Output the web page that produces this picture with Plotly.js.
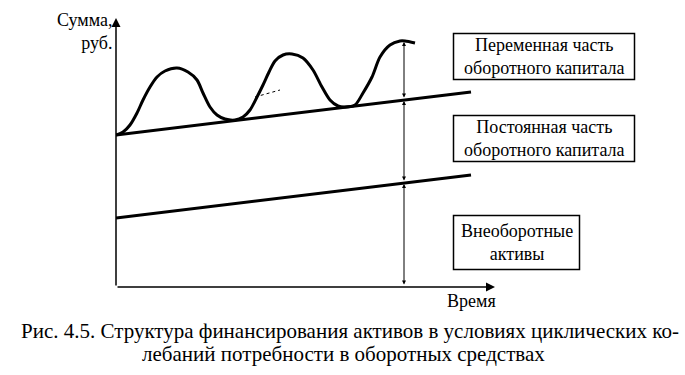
<!DOCTYPE html>
<html><head><meta charset="utf-8">
<script src="https://cdn.plot.ly/plotly-3.0.1.min.js"></script>
<style>html,body{margin:0;padding:0;background:#fff}#chart{width:685px;height:375px}</style>
</head><body><div id="chart"></div>
<script>
// ---- data (arbitrary units: time, sum) ----
const timeWave = [0,0.7,1.4,2.1,2.7,3.4,4.1,4.9,6.1,7.2,8.1,8.7,9.4,10.1,10.9,11.9,12.7,13.4,14.1,14.7,15.3,15.9,16.7,17.6,18.7,19.7,20.6,21.4,22.2,22.9,23.9,24.7,25.6,26.4,27.4,28.4,28.9,29.9];
const sumWave  = [15.2,15.5,16.2,17.4,18.7,20.0,21.0,21.6,21.9,21.5,20.7,19.4,18.0,17.2,16.8,16.7,17.0,17.7,19.0,20.2,21.5,22.6,23.2,23.3,22.9,21.7,20.0,18.7,18.1,18.0,18.2,19.4,21.0,23.0,24.2,24.6,24.6,24.4];
const timeLine = [0, 35.5];
const constPart = [15.2, 19.5];   // upper straight line
const fixedAssets = [6.9, 11.2];  // lower straight line
const leaderTime = [13.9, 16.4];
const leaderSum = [19.0, 19.7];
const markTime = 28.8;
const markLevels = [24.6, 18.7, 10.4, 0];
const boxLabels = [
  ["Переменная часть", "оборотного капитала"],
  ["Постоянная часть", "оборотного капитала"],
  ["Внеоборотные", "активы"]
];
const yTitle = ["Сумма,", "руб."];
const xTitle = "Время";
const caption = ["Рис. 4.5. Структура финансирования активов в условиях циклических ко-",
                 "лебаний потребности в оборотных средствах"];

// ---- layout helpers (pixel -> paper) ----
const L = 116, T = 18, PW = 381, PH = 269;
const XMAX = 38.1, YMAX = 26.9;
const px = v => (v - L) / PW;
const py = v => (T + PH - v) / PH;
const FONT = "Liberation Serif";
const FS = 18, CAP = 21;

const traces = [
  {x: timeLine, y: fixedAssets, mode: "lines", line: {color: "#000", width: 3}},
  {x: timeLine, y: constPart, mode: "lines", line: {color: "#000", width: 3}},
  {x: timeWave, y: sumWave, mode: "lines", line: {color: "#000", width: 3, shape: "spline", smoothing: 0.8}},
  {x: leaderTime, y: leaderSum, mode: "lines", line: {color: "#000", width: 1, dash: "dot"}}
];

const ann = [];
// axes with arrows
ann.push({x: 0, y: YMAX, ax: 0, ay: 0, xref: "x", yref: "y", axref: "x", ayref: "y",
  showarrow: true, arrowhead: 2, arrowsize: 1.2, arrowwidth: 1.5, arrowcolor: "#000", text: "", standoff: 0});
ann.push({x: XMAX - 0.2, y: 0, ax: 0, ay: 0, xref: "x", yref: "y", axref: "x", ayref: "y",
  showarrow: true, arrowhead: 2, arrowsize: 1.2, arrowwidth: 1.5, arrowcolor: "#000", text: "", standoff: 0});
// vertical double arrows
for (let i = 0; i < markLevels.length - 1; i++) {
  ann.push({x: markTime, y: markLevels[i], ax: markTime, ay: markLevels[i+1],
    xref: "x", yref: "y", axref: "x", ayref: "y", text: "", showarrow: true,
    arrowside: "end+start", arrowhead: 2, arrowsize: 0.8, arrowwidth: 1, arrowcolor: "#000", standoff: 1, startstandoff: 1});
}
// boxes
const boxes = [
  {cx: 544, cy: 56.5, w: 181, h: 46, lines: boxLabels[0]},
  {cx: 544, cy: 138.5, w: 181, h: 46, lines: boxLabels[1]},
  {cx: 516.5, cy: 242.5, w: 126, h: 54, lines: boxLabels[2]}
];
const shapes = [];
boxes.forEach(b => {
  shapes.push({type: "rect", xref: "paper", yref: "paper",
    x0: px(b.cx - b.w/2), x1: px(b.cx + b.w/2), y0: py(b.cy + b.h/2), y1: py(b.cy - b.h/2),
    line: {color: "#000", width: 1.5}, fillcolor: "rgba(0,0,0,0)"});
  ann.push({xref: "paper", yref: "paper", x: px(b.cx), y: py(b.cy), text: b.lines.join("<br>"), showarrow: false,
    xanchor: "center", yanchor: "middle", align: "center", borderpad: 0,
    font: {family: FONT, size: FS, color: "#000"}});
});
// axis titles
ann.push({xref: "paper", yref: "paper", x: px(113), y: py(31), text: yTitle.join("<br>"), showarrow: false,
  xanchor: "right", yanchor: "middle", align: "right", borderpad: 0, font: {family: FONT, size: FS, color: "#000"}});
ann.push({xref: "paper", yref: "paper", x: px(471), y: py(301), text: xTitle, showarrow: false,
  xanchor: "center", yanchor: "middle", font: {family: FONT, size: FS, color: "#000"}});
// caption
ann.push({xref: "paper", yref: "paper", x: px(350), y: py(331), text: caption[0], showarrow: false,
  xanchor: "center", yanchor: "middle", borderpad: 0, font: {family: FONT, size: CAP, color: "#000"}});
ann.push({xref: "paper", yref: "paper", x: px(343), y: py(354), text: caption[1], showarrow: false,
  xanchor: "center", yanchor: "middle", borderpad: 0, font: {family: FONT, size: CAP, color: "#000"}});

const axisCommon = {showgrid: false, zeroline: false, showline: false, showticklabels: false, ticks: "", fixedrange: true};
const layout = {
  width: 685, height: 375,
  margin: {l: L, r: 685 - L - PW, t: T, b: 375 - T - PH, pad: 0},
  paper_bgcolor: "#fff", plot_bgcolor: "#fff",
  showlegend: false, hovermode: false,
  font: {family: FONT, color: "#000"},
  xaxis: Object.assign({range: [0, XMAX]}, axisCommon),
  yaxis: Object.assign({range: [0, YMAX]}, axisCommon),
  annotations: ann, shapes: shapes
};
Plotly.newPlot("chart", traces, layout, {staticPlot: true, displayModeBar: false});
</script></body></html>
